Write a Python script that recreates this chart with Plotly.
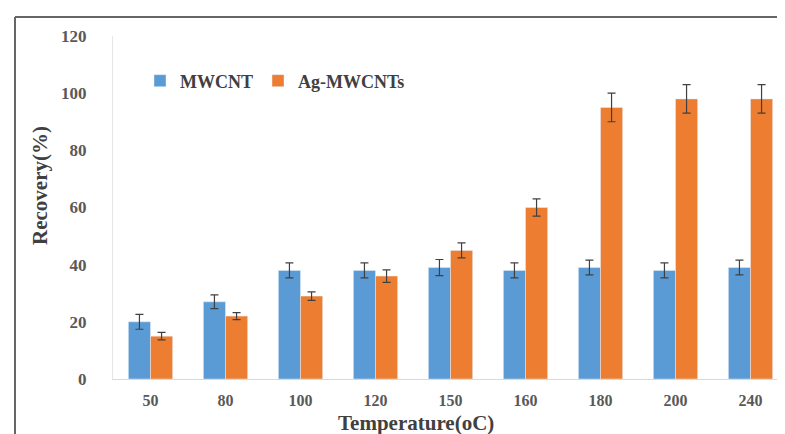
import plotly.graph_objects as go

categories = ["50", "80", "100", "120", "150", "160", "180", "200", "240"]
mwcnt = [20, 27, 38, 38, 39, 38, 39, 38, 39]
mwcnt_err = [2.6, 2.4, 2.6, 2.6, 2.8, 2.6, 2.6, 2.6, 2.6]
ag = [15, 22, 29, 36, 45, 60, 95, 98, 98]
ag_err = [1.3, 1.2, 1.5, 2.2, 2.6, 3, 5, 5, 5]

font_family = "Liberation Serif"
fig = go.Figure()
fig.add_trace(go.Bar(name="MWCNT", x=categories, y=mwcnt, marker_color="#5B9BD5",
                     error_y=dict(type="data", array=mwcnt_err, color="#404040", thickness=1.2, width=4)))
fig.add_trace(go.Bar(name="Ag-MWCNTs", x=categories, y=ag, marker_color="#ED7D31",
                     error_y=dict(type="data", array=ag_err, color="#404040", thickness=1.2, width=4)))

fig.update_layout(
    width=785, height=434,
    margin=dict(l=105, r=5, t=28, b=63),
    paper_bgcolor="white", plot_bgcolor="white",
    barmode="group", bargap=0.41, bargroupgap=0,
    font=dict(family=font_family, color="#595959"),
    showlegend=True,
    legend=dict(orientation="h", x=0.04, y=0.869, xanchor="left", yanchor="middle",
                font=dict(family=font_family, size=18, color="#404040", weight="bold"),
                bgcolor="rgba(0,0,0,0)", itemwidth=30),
    xaxis=dict(showgrid=False, showline=True, linecolor="#D9D9D9", linewidth=1, ticks="",
               tickfont=dict(family=font_family, size=16, color="#595959", weight="bold"),
               ticklabelstandoff=7),
    yaxis=dict(range=[0, 120], dtick=20, showgrid=False, showline=True, linecolor="#E6E6E6",
               linewidth=1, ticks="", zeroline=False,
               tickfont=dict(family=font_family, size=17, color="#595959", weight="bold"),
               ticklabelstandoff=22),
)

fig.add_annotation(text="Temperature(oC)", xref="paper", yref="paper", x=(408 - 105) / 675,
                   y=-(415 - 371) / 343, xanchor="center", yanchor="middle", showarrow=False,
                   font=dict(family=font_family, size=21, color="#404040", weight="bold"))
fig.add_annotation(text="Recovery(%)", xref="paper", yref="paper", x=(32 - 105) / 675,
                   y=(371 - 178) / 343, xanchor="center", yanchor="middle",
                   textangle=-90, showarrow=False,
                   font=dict(family=font_family, size=21, color="#404040", weight="bold"))

fig.add_shape(type="line", xref="paper", yref="paper", x0=(7 - 105) / 675, x1=(786 - 105) / 675,
              y0=(371 - 9) / 343, y1=(371 - 9) / 343, line=dict(color="#666666", width=2))
fig.add_shape(type="line", xref="paper", yref="paper", x0=(7 - 105) / 675, x1=(7 - 105) / 675,
              y0=(371 - 9) / 343, y1=-0.3, line=dict(color="#666666", width=2))

fig.write_html("out.html", config={"displayModeBar": False})
